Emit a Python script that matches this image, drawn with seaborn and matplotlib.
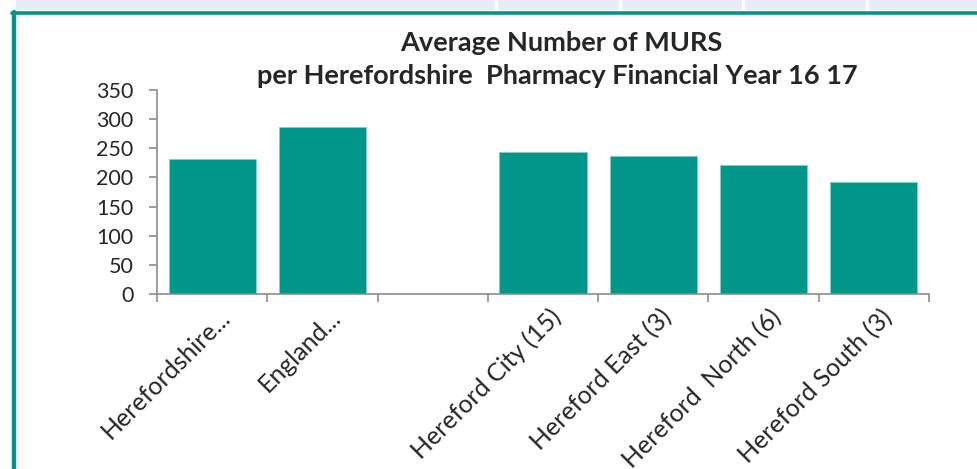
import matplotlib
matplotlib.use("Agg")
import matplotlib.pyplot as plt
import matplotlib.transforms as mtransforms
import seaborn as sns
import numpy as np
import pandas as pd
from matplotlib.patches import Rectangle
from matplotlib.lines import Line2D

categories = ["Herefordshire...", "England...", "", "Hereford City (15)",
              "Hereford East (3)", "Hereford  North (6)", "Hereford South (3)"]
values = [232, 287, np.nan, 244, 237, 221, 192]
title_lines = ["Average Number of MURS",
               "per Herefordshire  Pharmacy Financial Year 16 17"]
yticks = [0, 50, 100, 150, 200, 250, 300, 350]

sns.set_style("white")
plt.rcParams["font.family"] = ["Lato", "DejaVu Sans"]

teal = "#00968A"
fig = plt.figure(figsize=(9.77, 4.69), dpi=100)
W, H = 977, 469

# top grey strip with separators
fig.patches.append(Rectangle((16 / W, 1 - 9 / H), 1 - 16 / W, 9 / H,
                             transform=fig.transFigure, color="#E8ECF4", zorder=0))
for xs in [496, 620, 743, 867]:
    fig.lines.append(Line2D([xs / W, xs / W], [1 - 10 / H, 1], transform=fig.transFigure,
                            color="white", lw=2.5, zorder=1))
# teal frame lines
fig.lines.append(Line2D([12 / W, 1], [1 - 13.5 / H, 1 - 13.5 / H], transform=fig.transFigure,
                        color=teal, lw=2.6, zorder=2))
fig.lines.append(Line2D([14 / W, 14 / W], [0, 1 - 12 / H], transform=fig.transFigure,
                        color=teal, lw=3.2, zorder=2))

ax = fig.add_axes([157 / W, 1 - 294 / H, (929 - 157) / W, (294 - 90) / H])
df = pd.DataFrame({"cat": categories, "val": values})
sns.barplot(data=df, x="cat", y="val", order=categories, color=teal,
            saturation=1, width=0.79, ax=ax, edgecolor="#7FCFC6", linewidth=0.6)
ax.set_xlim(-0.5, len(categories) - 0.5)
ax.set_ylim(0, 350)
ax.set_yticks(yticks)
ax.set_yticklabels([str(v) for v in yticks], fontsize=15.5)
ax.set_xlabel("")
ax.set_ylabel("")
ax.set_xticks(range(len(categories)))
ax.set_xticklabels(categories, rotation=45, ha="right", rotation_mode="anchor", fontsize=18)
ax.set_xticks(np.arange(-0.5, len(categories), 1), minor=True)
ax.tick_params(axis="x", which="major", length=0, pad=8, bottom=True)
ax.tick_params(axis="x", which="minor", length=6, width=1.2, color="#8C8C8C",
               direction="out", bottom=True)
ax.tick_params(axis="y", length=6, width=1.2, color="#8C8C8C", direction="out",
               pad=11, left=True)
offset = mtransforms.ScaledTranslation(6 / 100, 0, fig.dpi_scale_trans)
for lab in ax.get_xticklabels():
    lab.set_transform(lab.get_transform() + offset)
for s in ["top", "right"]:
    ax.spines[s].set_visible(False)
for s in ["left", "bottom"]:
    ax.spines[s].set_color("#8C8C8C")
    ax.spines[s].set_linewidth(1.2)

fig.text(561 / W, 1 - 43 / H, title_lines[0], ha="center", va="center",
         fontsize=19.5, fontweight="bold")
fig.text(557 / W, 1 - 76 / H, title_lines[1], ha="center", va="center",
         fontsize=19.5, fontweight="bold")

fig.savefig("out.png", dpi=100)
